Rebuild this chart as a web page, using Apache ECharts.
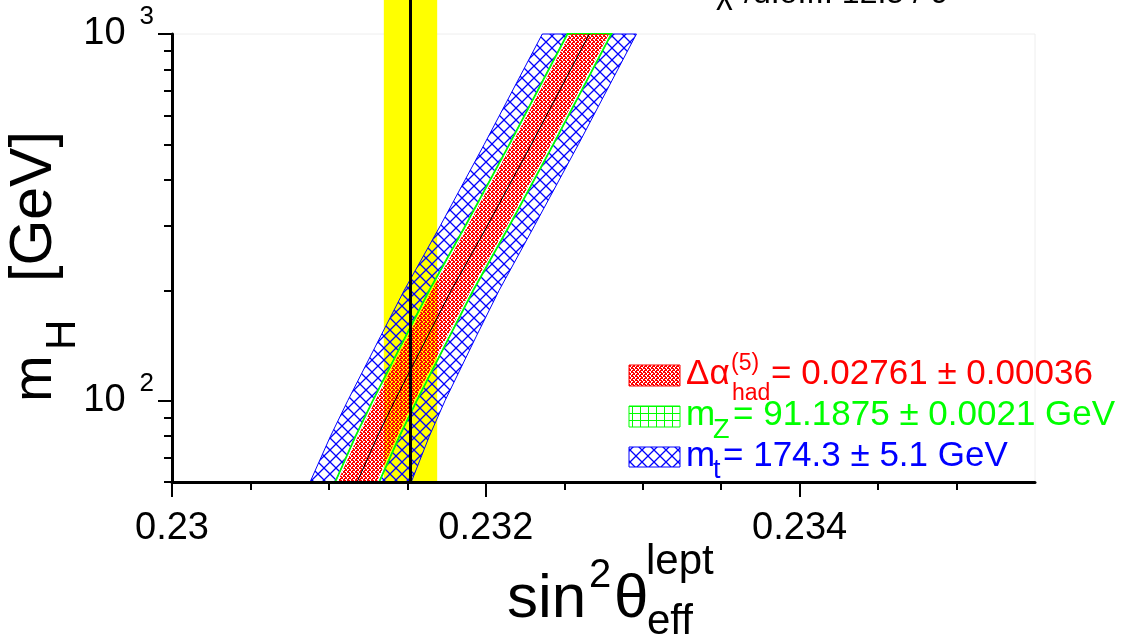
<!DOCTYPE html>
<html>
<head>
<meta charset="utf-8">
<script src="https://cdn.jsdelivr.net/npm/echarts@6/dist/echarts.min.js"></script>
<style>
html, body { margin: 0; padding: 0; background: #fff; }
#mh_plot { width: 1125px; height: 643px; }
</style>
</head>
<body>
<div id="mh_plot"></div>
<script>

var mH = [60, 80, 100, 150, 200, 300, 500, 1000];

// central line of the bands (sin2theta_eff)
var centre  = [0.231180, 0.231310, 0.231420, 0.231630, 0.231780, 0.232010, 0.232290, 0.232660];
// delta alpha_had band
var redLo   = [0.231055, 0.231185, 0.231295, 0.231505, 0.231655, 0.231885, 0.232165, 0.232535];
var redHi   = [0.231305, 0.231435, 0.231545, 0.231755, 0.231905, 0.232135, 0.232415, 0.232785];
// mZ band
var greenLo = [0.231040, 0.231170, 0.231280, 0.231490, 0.231640, 0.231870, 0.232150, 0.232520];
var greenHi = [0.231320, 0.231450, 0.231560, 0.231770, 0.231920, 0.232150, 0.232430, 0.232800];
// mt band
var blueLo  = [0.230880, 0.231010, 0.231120, 0.231330, 0.231480, 0.231710, 0.231990, 0.232360];
var blueHi  = [0.231525, 0.231640, 0.231740, 0.231940, 0.232085, 0.232310, 0.232590, 0.232960];

// measured sin2theta_eff: low, central, high
var sinEff = [0.23135, 0.23152, 0.23169];
// yellow band runs from the bottom of the axis to above the frame
var sinEffSpan = [60, 1300];

// tick values
var xMajorTicks = [0.230, 0.232, 0.234];
var xMinorTicks = [0.2305, 0.2310, 0.2315, 0.2325, 0.2330, 0.2335, 0.2345, 0.2350];
var yMajorTicks = [100, 1000];
var yMinorTicks = [60, 70, 80, 90, 200, 300, 400, 500, 600, 700, 800, 900];

var FONT = "'Liberation Sans', Arial, Helvetica, sans-serif";

function makeTile(w, h, draw) {
    var c = document.createElement('canvas');
    c.width = w; c.height = h;
    draw(c.getContext('2d'), w, h);
    return {image: c, repeat: 'repeat'};
}

// dense red cross-hatch (red X lattice with small white diamonds)
var redHatch = makeTile(4, 4, function (g) {
    g.fillStyle = '#ff0000';
    for (var i = 0; i < 4; i++) { g.fillRect(i, i, 1, 1); g.fillRect(3 - i, i, 1, 1); }
    g.fillRect(1, 0, 1, 1);
    g.fillRect(0, 2, 1, 1);
});
// wide blue cross-hatch
var blueHatch = makeTile(12, 12, function (g, w, h) {
    g.strokeStyle = '#0000ff';
    g.lineWidth = 1.3;
    g.beginPath();
    g.moveTo(-1, -1); g.lineTo(w + 1, h + 1);
    g.moveTo(w + 1, -1); g.lineTo(-1, h + 1);
    g.stroke();
});
// green square grid
var greenGrid = makeTile(8, 7, function (g) {
    g.fillStyle = '#00ff00';
    g.fillRect(0, 0, 8, 1); g.fillRect(0, 0, 1, 7);
});

function bandPolygon(api, lo, hi, style) {
    var pts = [];
    for (var i = 0; i < mH.length; i++) pts.push(api.coord([lo[i], mH[i]]));
    for (var j = mH.length - 1; j >= 0; j--) pts.push(api.coord([hi[j], mH[j]]));
    return {type: 'polygon', shape: {points: pts}, style: style};
}

function bandSeries(lo, hi, style, z) {
    return {
        type: 'custom', z: z, silent: true,
        data: [[lo[0], mH[0]]],
        renderItem: function (params, api) {
            return bandPolygon(api, lo, hi, style);
        }
    };
}

function txt(s, x, y, size, color, rot) {
    return {
        type: 'text', x: x, y: y, rotation: rot || 0, z: 100, silent: true,
        style: {
            text: s, fill: color, fontSize: size, fontFamily: FONT,
            align: 'left', verticalAlign: 'middle',
            textAlign: 'left', textVerticalAlign: 'middle'
        }
    };
}

function swatch(y, h, fill, color) {
    return {
        type: 'rect', z: 100, silent: true,
        shape: {x: 629, y: y, width: 51, height: h},
        style: {fill: fill, stroke: color, lineWidth: 1}
    };
}

var myChart = echarts.init(document.getElementById('mh_plot'));

var xBase = {
    type: 'value', min: 0.23, max: 0.2355, position: 'bottom', z: 10,
    splitLine: {show: false}
};
var yBase = {
    type: 'log', logBase: 10, min: 60, max: 1000, position: 'left', z: 10,
    splitLine: {show: false}
};

option = {
    animation: false,
    backgroundColor: '#ffffff',
    grid: {
        left: 172, right: 90, top: 34, bottom: 161,
        show: true, borderColor: '#eeeeee', borderWidth: 1,
        backgroundColor: 'transparent'
    },
    xAxis: [
        Object.assign({}, xBase, {
            axisLine: {onZero: false, lineStyle: {color: '#000', width: 3}},
            axisTick: {length: 15, customValues: xMajorTicks, lineStyle: {color: '#000', width: 2}},
            axisLabel: {
                customValues: xMajorTicks, margin: 28,
                fontSize: 38, fontFamily: FONT, color: '#000',
                formatter: function (v) { return String(+v.toFixed(4)); }
            }
        }),
        Object.assign({}, xBase, {
            axisLine: {show: false, onZero: false},
            axisTick: {length: 8, customValues: xMinorTicks, lineStyle: {color: '#000', width: 2}},
            axisLabel: {show: false}
        })
    ],
    yAxis: [
        Object.assign({}, yBase, {
            axisLine: {lineStyle: {color: '#000', width: 3}},
            axisTick: {length: 14, customValues: yMajorTicks, lineStyle: {color: '#000', width: 2}},
            axisLabel: {
                customValues: yMajorTicks, margin: 18,
                fontSize: 38, fontFamily: FONT, color: '#000',
                formatter: function (v) {
                    return '{b|10}{s|' + Math.round(Math.log(v) / Math.LN10) + '}';
                },
                rich: {
                    b: {fontSize: 38, fontFamily: FONT, color: '#000'},
                    s: {fontSize: 26, fontFamily: FONT, color: '#000', padding: [0, 0, 34, 14]}
                }
            }
        }),
        Object.assign({}, yBase, {
            axisLine: {show: false},
            axisTick: {length: 8, customValues: yMinorTicks, lineStyle: {color: '#000', width: 2}},
            axisLabel: {show: false}
        })
    ],
    series: [
        // measured sin2theta_eff band
        {
            type: 'custom', z: 1, silent: true,
            data: [[sinEff[0], sinEffSpan[0]]],
            renderItem: function (params, api) {
                var a = api.coord([sinEff[0], sinEffSpan[0]]);
                var b = api.coord([sinEff[2], sinEffSpan[1]]);
                return {
                    type: 'rect',
                    shape: {x: a[0], y: b[1], width: b[0] - a[0], height: a[1] - b[1]},
                    style: {fill: '#ffff00'}
                };
            }
        },
        // mt band, drawn as two strips outside the mZ band
        bandSeries(blueLo, greenLo, {fill: blueHatch, stroke: '#0000ff', lineWidth: 1}, 2),
        bandSeries(greenHi, blueHi, {fill: blueHatch, stroke: '#0000ff', lineWidth: 1}, 2),
        // mZ band
        bandSeries(greenLo, greenHi, {fill: 'none', stroke: '#00ff00', lineWidth: 1.8}, 3),
        // delta alpha band
        bandSeries(redLo, redHi, {fill: redHatch}, 4),
        // central line
        {
            type: 'custom', z: 5, silent: true,
            data: [[centre[0], mH[0]]],
            renderItem: function (params, api) {
                var pts = [];
                for (var i = 0; i < mH.length; i++) pts.push(api.coord([centre[i], mH[i]]));
                return {type: 'polyline', shape: {points: pts}, style: {stroke: '#000', lineWidth: 1, fill: 'none'}};
            }
        },
        // measured central value
        {
            type: 'custom', z: 6, silent: true,
            data: [[sinEff[1], sinEffSpan[0]]],
            renderItem: function (params, api) {
                var a = api.coord([sinEff[1], sinEffSpan[0]]);
                var b = api.coord([sinEff[1], sinEffSpan[1]]);
                return {type: 'line', shape: {x1: a[0], y1: a[1], x2: b[0], y2: b[1]}, style: {stroke: '#000', lineWidth: 3}};
            }
        }
    ],
    graphic: [
        // chi2 text, cut by the top edge
        txt('\u03c7', 716, -6, 32, '#000'),
        txt('/d.o.f.: 12.5 / 9', 744, -6, 32, '#000'),

        // y title
        txt('m', 35.6, 402, 56, '#000', Math.PI / 2),
        txt('H', 63.7, 350, 42, '#000', Math.PI / 2),
        txt('[GeV]', 34.6, 282, 59, '#000', Math.PI / 2),

        // x title
        txt('sin', 507, 600, 62, '#000'),
        txt('2', 589, 576, 40, '#000'),
        txt('\u03b8', 614, 600, 62, '#000'),
        txt('lept', 646, 562, 42, '#000'),
        txt('eff', 647, 622, 42, '#000'),

        // legend
        swatch(365, 21, redHatch, '#ff0000'),
        swatch(406, 21, greenGrid, '#00ff00'),
        swatch(447, 20, blueHatch, '#0000ff'),

        txt('\u0394\u03b1', 686, 374.6, 35, '#ff0000'),
        txt('(5)', 731, 364, 23, '#ff0000'),
        txt('had', 732, 394, 23, '#ff0000'),
        txt('= 0.02761 \u00b1 0.00036', 771, 374.6, 35, '#ff0000'),

        txt('m', 686, 415, 35, '#00ff00'),
        txt('Z', 713, 430.6, 27, '#00ff00'),
        txt('= 91.1875 \u00b1 0.0021 GeV', 733, 415, 35, '#00ff00'),

        txt('m', 686, 456, 35, '#0000ff'),
        txt('t', 713, 470.6, 27, '#0000ff'),
        txt('= 174.3 \u00b1 5.1 GeV', 723, 456, 35, '#0000ff')
    ]
};

myChart.setOption(option);
</script>
</body>
</html>
